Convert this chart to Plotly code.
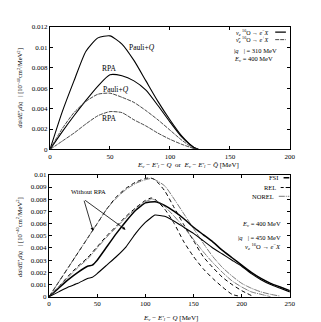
import plotly.graph_objects as go

# ---------------- top panel data ----------------
x_top = [0, 10, 20, 30, 40, 50, 60, 70, 80, 90, 100, 110, 120, 124]
pauli_nu = [0, 0.0036, 0.0067, 0.0096, 0.0109, 0.0111, 0.0103, 0.0087, 0.0067, 0.0047, 0.0029, 0.0013, 0.0002, 0]
rpa_nu = [0, 0.0017, 0.0033, 0.0048, 0.0062, 0.0073, 0.0072, 0.0067, 0.0058, 0.0043, 0.0027, 0.0012, 0.0002, 0]
pauli_nubar = [0, 0.0020, 0.0036, 0.0047, 0.0054, 0.0055, 0.0051, 0.0046, 0.0038, 0.0029, 0.0019, 0.0009, 0.0001, 0]
rpa_nubar = [0, 0.0008, 0.0016, 0.0025, 0.0033, 0.0037, 0.0036, 0.0029, 0.0023, 0.0016, 0.0010, 0.0005, 0.0001, 0]

top_xticks = [0, 50, 100, 150, 200]
top_yticks = [0, 0.002, 0.004, 0.006, 0.008, 0.01, 0.012]
top_yticktext = ["0", "0.002", "0.004", "0.006", "0.008", "0.01", "0.012"]

# ---------------- bottom panel data ----------------
x_rel_norpa = [0, 10, 20, 30, 40, 50, 60, 70, 80, 90, 100, 105, 110, 120, 130, 140, 150, 160, 170, 180, 190, 200, 210]
rel_norpa = [0, 0.0012, 0.0024, 0.0036, 0.0048, 0.0060, 0.0072, 0.0082, 0.0089, 0.0094, 0.0097, 0.00975, 0.0096,
             0.0087, 0.0073, 0.0059, 0.0046, 0.0033, 0.0024, 0.0016, 0.0010, 0.0005, 0.0001]

x_norel_norpa = [0, 10, 20, 30, 40, 50, 60, 70, 80, 90, 100, 107, 120, 130, 140, 150, 160, 170, 180, 190, 200,
                 210, 220, 230, 240]
norel_norpa = [0, 0.0012, 0.0024, 0.0036, 0.0048, 0.0060, 0.0072, 0.0081, 0.0088, 0.0093, 0.0096, 0.0097, 0.0091,
               0.0080, 0.0068, 0.0056, 0.0044, 0.0033, 0.0024, 0.0017, 0.0011, 0.0007, 0.0004, 0.0002, 0.00005]

x_fsi = [0, 10, 20, 30, 40, 45, 50, 60, 70, 80, 90, 100, 110, 120, 130, 140, 150, 160, 170, 180, 190, 200, 210,
         220, 230, 240, 250]
fsi_norpa = [0, 0.0007, 0.0014, 0.0020, 0.0025, 0.0026, 0.0030, 0.0041, 0.0052, 0.0062, 0.0071, 0.0077, 0.0078,
             0.0075, 0.0070, 0.0064, 0.0057, 0.0051, 0.0045, 0.0038, 0.0032, 0.0026, 0.0020, 0.0015, 0.0011,
             0.0008, 0.0005]
fsi_rpa = [0, 0.0004, 0.0008, 0.0011, 0.0015, 0.0016, 0.0019, 0.0026, 0.0033, 0.0041, 0.0052, 0.0061, 0.0067,
           0.0066, 0.0062, 0.0057, 0.0052, 0.0046, 0.0040, 0.0035, 0.0030, 0.0025, 0.0019, 0.0014, 0.0010,
           0.0007, 0.0004]

x_rel_rpa = [0, 10, 20, 30, 40, 50, 60, 70, 80, 90, 100, 106, 110, 120, 130, 140, 150, 160, 170, 180, 190, 200]
rel_rpa = [0, 0.0008, 0.0017, 0.0025, 0.0032, 0.0041, 0.0050, 0.0058, 0.0066, 0.0073, 0.0079, 0.0081, 0.0080,
           0.0072, 0.0060, 0.0045, 0.0033, 0.0023, 0.0015, 0.0008, 0.0002, 0]

x_norel_rpa = [0, 10, 20, 30, 40, 50, 60, 70, 80, 90, 100, 108, 120, 130, 140, 150, 160, 170, 180, 190, 200,
               210, 220, 230]
norel_rpa = [0, 0.0008, 0.0016, 0.0024, 0.0031, 0.0040, 0.0049, 0.0057, 0.0065, 0.0072, 0.0078, 0.0080, 0.0074,
             0.0066, 0.0057, 0.0047, 0.0037, 0.0028, 0.0020, 0.0013, 0.0008, 0.0004, 0.0002, 0]

bot_xticks = [0, 50, 100, 150, 200, 250]
bot_yticks = [0, 0.001, 0.002, 0.003, 0.004, 0.005, 0.006, 0.007, 0.008, 0.009, 0.01]
bot_yticktext = ["0", "0.001", "0.002", "0.003", "0.004", "0.005", "0.006", "0.007", "0.008", "0.009", "0.01"]

FONT = "Liberation Serif"
fig = go.Figure()


def add(x, y, xa, ya, color="black", width=1.0, dash="solid", smooth=0.6):
    fig.add_trace(go.Scatter(x=x, y=y, xaxis=xa, yaxis=ya, mode="lines",
                             line=dict(color=color, width=width, dash=dash, shape="spline", smoothing=smooth),
                             showlegend=False, hoverinfo="skip"))


# top curves
add(x_top, pauli_nu, "x", "y", width=1.1)
add(x_top, rpa_nu, "x", "y", width=1.1)
add(x_top, pauli_nubar, "x", "y", color="#333", width=0.9, dash="4px,1px")
add(x_top, rpa_nubar, "x", "y", color="#333", width=0.9, dash="4px,1px")

# bottom curves
add(x_rel_norpa, rel_norpa, "x2", "y2", width=1.0, dash="4px,3px")
add(x_norel_norpa, norel_norpa, "x2", "y2", color="#555", width=0.8, dash="6px,1px,1px,1px")
add(x_fsi, fsi_norpa, "x2", "y2", width=1.5, smooth=0.4)
add(x_rel_rpa, rel_rpa, "x2", "y2", width=1.0, dash="4px,3px")
add(x_norel_rpa, norel_rpa, "x2", "y2", color="#555", width=0.8, dash="6px,1px,1px,1px")
add(x_fsi, fsi_rpa, "x2", "y2", width=1.1, smooth=0.4)

axis_common = dict(showline=True, mirror="ticks", linecolor="black", linewidth=1, ticks="inside", ticklen=3,
                   tickcolor="black", showgrid=False, zeroline=False,
                   tickfont=dict(family=FONT, size=7, color="black"))

fig.update_layout(
    width=321, height=322, margin=dict(l=0, r=0, t=0, b=0),
    paper_bgcolor="white", plot_bgcolor="white",
    xaxis=dict(domain=[41 / 321, 287 / 321], range=[0, 200], tickvals=top_xticks, anchor="y", **axis_common),
    yaxis=dict(domain=[1 - 141 / 322, 1 - 15 / 322], range=[0, 0.012], tickvals=top_yticks,
               ticktext=top_yticktext, anchor="x", **axis_common),
    xaxis2=dict(domain=[40 / 321, 287 / 321], range=[0, 250], tickvals=bot_xticks, anchor="y2", **axis_common),
    yaxis2=dict(domain=[1 - 292 / 322, 1 - 167 / 322], range=[0, 0.01], tickvals=bot_yticks,
                ticktext=bot_yticktext, anchor="x2", **axis_common),
)

ann = []


def txt(x, y, s, xref="x", yref="y", size=7, xanchor="center", yanchor="middle", angle=0):
    ann.append(dict(x=x, y=y, xref=xref, yref=yref, text=s, showarrow=False, xanchor=xanchor, yanchor=yanchor,
                    textangle=angle, font=dict(family=FONT, size=size, color="black")))


# top labels
txt(64, 0.0100, "Pauli+<i>Q</i>", size=7.5, xanchor="left")
txt(49.5, 0.0079, "RPA", size=7.5)
txt(55, 0.0059, "Pauli+<i>Q</i>", size=7.5)
txt(49.5, 0.0030, "RPA", size=7.5)
txt(184.5, 0.01146, "<i>ν<sub>e</sub></i> <sup>16</sup>O → <i>e</i><sup>−</sup><i>X</i>", xanchor="right", size=6)
txt(184.5, 0.01073, "<i>ν̄<sub>e</sub></i> <sup>16</sup>O → <i>e</i><sup>+</sup><i>X</i>", xanchor="right", size=6)
txt(152, 0.00962, "|<i>q⃗</i>| = 310 MeV", xanchor="left", size=6.5)
txt(152, 0.00883, "<i>E<sub>ν</sub></i> = 400 MeV", xanchor="left", size=6.5)
txt(183 / 321, 1 - 157 / 322,
    "<i>E<sub>ν</sub></i> − <i>E'<sub>l</sub></i> − <i>Q</i>  or  <i>E<sub>ν̄</sub></i> − <i>E'<sub>l̄</sub></i> − <i>Q̄</i> [MeV]",
    xref="paper", yref="paper", size=7)
txt(10 / 321, 1 - 78 / 322,
    "<i>dσ</i>/<i>dE'<sub>l</sub>d</i>|<i>q⃗</i>| [10<sup>−40</sup>cm<sup>2</sup>/MeV<sup>2</sup>]",
    xref="paper", yref="paper", size=6.5, angle=-90)

# bottom labels
txt(240, 0.00976, "FSI", "x2", "y2", xanchor="right", size=6.5)
txt(238, 0.00896, "REL", "x2", "y2", xanchor="right", size=6.5)
txt(236, 0.00824, "NOREL", "x2", "y2", xanchor="right", size=6.5)
txt(243, 0.0060, "<i>E<sub>ν</sub></i> = 400 MeV", "x2", "y2", xanchor="right", size=6.5)
txt(243, 0.0049, "|<i>q⃗</i>| = 450 MeV", "x2", "y2", xanchor="right", size=6.5)
txt(243, 0.0041, "<i>ν<sub>e</sub></i> <sup>16</sup>O → <i>e</i><sup>−</sup><i>X</i>", "x2", "y2", xanchor="right", size=6.5)
txt(41, 0.0086, "Without RPA", "x2", "y2", size=6.5)
txt(165 / 321, 1 - 314 / 322, "<i>E<sub>ν</sub></i> − <i>E'<sub>l</sub></i> − <i>Q</i> [MeV]",
    xref="paper", yref="paper", size=7)
txt(10 / 321, 1 - 231 / 322,
    "<i>dσ</i>/<i>dE'<sub>l</sub>d</i>|<i>q⃗</i>| [10<sup>−40</sup>cm<sup>2</sup>/MeV<sup>2</sup>]",
    xref="paper", yref="paper", size=6.5, angle=-90)

# arrows for "Without RPA"
for (tx, ty) in [(45.7, 0.0054), (79.5, 0.0055)]:
    ann.append(dict(x=tx, y=ty, xref="x2", yref="y2", ax=36, ay=0.0080, axref="x2", ayref="y2", text="",
                    showarrow=True, arrowhead=2, arrowsize=0.8, arrowwidth=0.8, arrowcolor="black"))

fig.update_layout(annotations=ann)

# legend line samples
shapes = [
    dict(type="line", xref="x", yref="y", x0=187.8, x1=196.7, y0=0.01146, y1=0.01146,
         line=dict(color="black", width=1.1)),
    dict(type="line", xref="x", yref="y", x0=187.8, x1=196.7, y0=0.01073, y1=0.01073,
         line=dict(color="#333", width=0.9, dash="4px,1px")),
    dict(type="line", xref="x2", yref="y2", x0=243.5, x1=249.5, y0=0.00976, y1=0.00976,
         line=dict(color="black", width=1.5)),
    dict(type="line", xref="x2", yref="y2", x0=240.5, x1=249.5, y0=0.00896, y1=0.00896,
         line=dict(color="black", width=1.0, dash="3px,2px")),
    dict(type="line", xref="x2", yref="y2", x0=238.5, x1=249.5, y0=0.00824, y1=0.00824,
         line=dict(color="#555", width=0.8, dash="6px,1px,1px,1px")),
]
fig.update_layout(shapes=shapes)

fig.write_html("out.html")
